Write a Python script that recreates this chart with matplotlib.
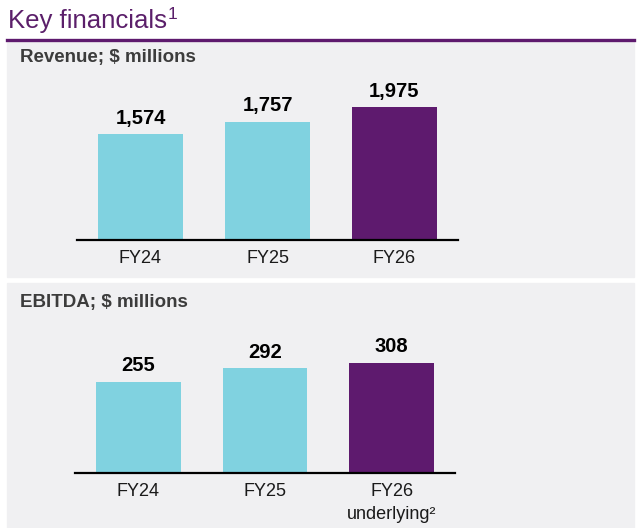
import matplotlib
matplotlib.use('Agg')
import matplotlib.pyplot as plt
from matplotlib.patches import Rectangle

# values
years = ['FY24', 'FY25', 'FY26']
ebitda_labels = ['FY24', 'FY25', 'FY26\nunderlying\u00b2']
revenue = [1574, 1757, 1975]
ebitda = [255, 292, 308]
revenue_text = ['1,574', '1,757', '1,975']
ebitda_text = ['255', '292', '308']

light_blue = '#80D2E0'
purple = '#5E1A6E'
bar_colors = [light_blue, light_blue, purple]
panel_grey = '#F0F0F2'

plt.rcParams['font.family'] = ['Liberation Sans', 'DejaVu Sans']

W, H = 640, 528
fig = plt.figure(figsize=(6.4, 5.28), dpi=100)
fig.patch.set_facecolor('white')


def fx(px):
    return px / W


def fy(py):
    return 1 - py / H


# grey panels, kept under the axes
fig.add_artist(Rectangle((fx(7), fy(277)), fx(627), (277 - 42) / H,
                         transform=fig.transFigure, color=panel_grey, zorder=-5))
fig.add_artist(Rectangle((fx(7), fy(528)), fx(627), (528 - 283) / H,
                         transform=fig.transFigure, color=panel_grey, zorder=-5))

# title with a raised footnote mark, and the purple rule
title = fig.text(fx(8), fy(28), 'Key financials', fontsize=18.5, color='#5B1F6A', va='baseline')
renderer = fig.canvas.get_renderer()
tb = title.get_window_extent(renderer)
fig.text(fx(tb.x1 + 1), fy(19), '1', fontsize=12.5, color='#5B1F6A', va='baseline')
fig.add_artist(plt.Line2D([fx(7), fx(634)], [fy(40), fy(40)], transform=fig.transFigure,
                          color=purple, lw=2.4))

fig.text(fx(20), fy(62), 'Revenue; $ millions', fontsize=13.5, fontweight='bold',
         color='#3C3C3C', va='baseline')
fig.text(fx(20), fy(307), 'EBITDA; $ millions', fontsize=13.5, fontweight='bold',
         color='#3C3C3C', va='baseline')


def panel(left, right, base, px_per_unit, values, texts, labels):
    ax_h = 150
    ax = fig.add_axes([fx(left), fy(base), fx(right - left), ax_h / H])
    ax.patch.set_alpha(0)
    x = range(len(values))
    ax.bar(x, values, width=0.67, color=bar_colors)
    ax.set_xlim(-0.5, 2.5)
    ax.set_ylim(0, ax_h / px_per_unit)
    for s in ['top', 'left', 'right']:
        ax.spines[s].set_visible(False)
    ax.spines['bottom'].set_linewidth(1.6)
    ax.spines['bottom'].set_color('black')
    ax.set_yticks([])
    ax.set_xticks(list(x))
    ax.set_xticklabels(labels, fontsize=13, color='#1A1A1A', linespacing=1.45)
    ax.tick_params(axis='x', length=0, pad=7.5)
    for xi, v, t in zip(x, values, texts):
        ax.annotate(t, (xi, v), xytext=(0, 7.5), textcoords='offset points',
                    ha='center', va='baseline', fontsize=14.5, fontweight='bold', color='black')
    return ax


panel(77, 458, 240, 133 / 1975, revenue, revenue_text, years)
panel(75, 455, 473, 0.358, ebitda, ebitda_text, ebitda_labels)

fig.savefig('out.png', dpi=100, facecolor='white')
